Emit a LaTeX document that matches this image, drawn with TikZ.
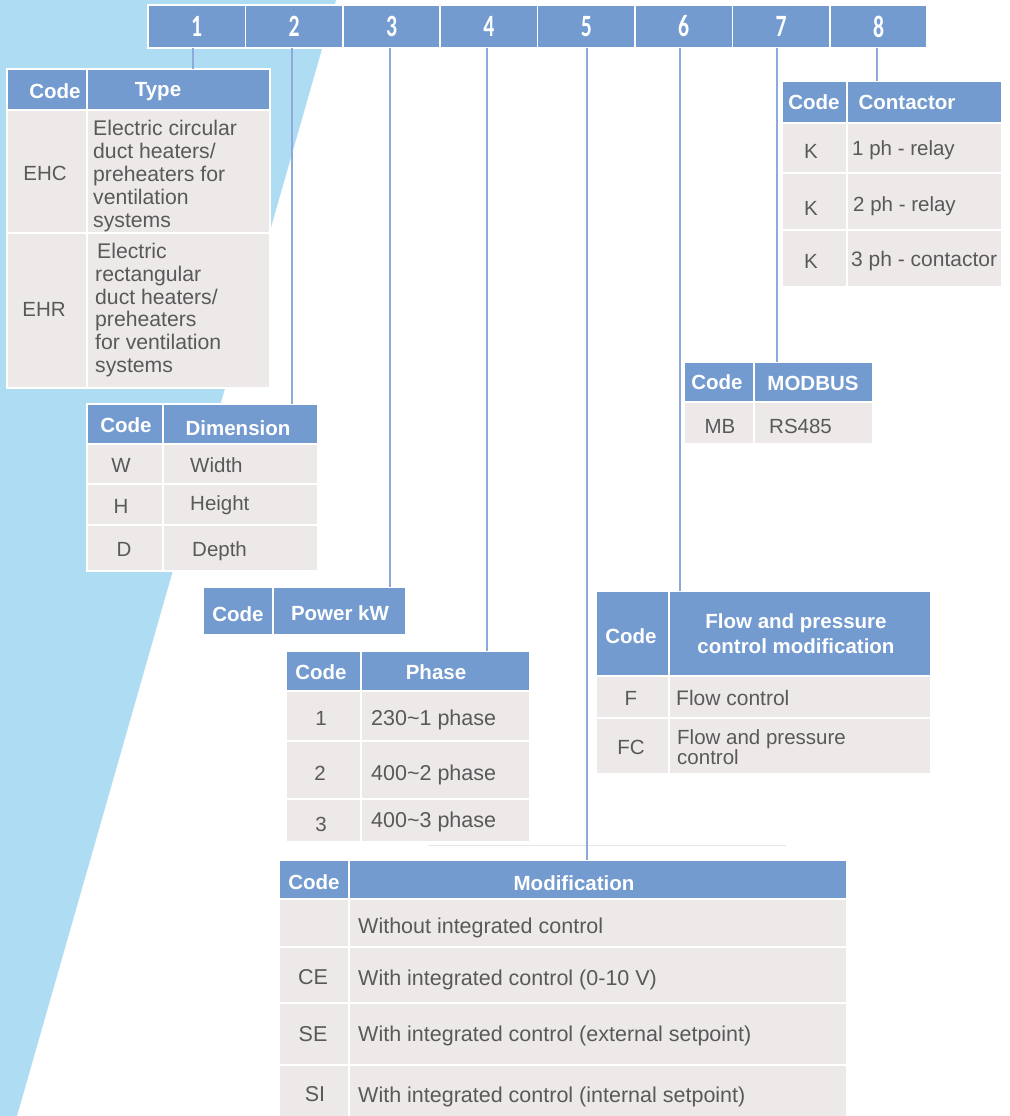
\documentclass[tikz,border=0pt]{standalone}
\usepackage{fontspec}
\setmainfont{Liberation Sans}
\newfontfamily\numfont{Carlito}
\usetikzlibrary{calc}
\definecolor{bgblue}{HTML}{AEDCF2}
\definecolor{hdr}{HTML}{739BD0}
\definecolor{rowc}{HTML}{EDE9E8}
\definecolor{txt}{HTML}{595959}
\definecolor{conn}{HTML}{8EAADB}
\definecolor{faint}{HTML}{E6E6E6}
\tikzset{
  cellbox/.style={draw=white, line width=1.5pt, inner sep=0pt, outer sep=0pt, anchor=north west},
  hcell/.style={cellbox, fill=hdr},
  rcell/.style={cellbox, fill=rowc},
  htext/.style={text=white, font=\fontsize{20.5}{25}\selectfont\bfseries, inner sep=0pt},
  btext/.style={text=txt, font=\fontsize{20.5}{23}\selectfont, inner sep=0pt},
  ltext/.style={btext, anchor=mid west, yshift=-4.5pt},
  mtext/.style={text=txt, font=\fontsize{21.5}{24}\selectfont, inner sep=0pt},
  numtext/.style={text=white, font=\numfont\fontsize{31}{31}\selectfont\bfseries, inner sep=0pt},
  link/.style={draw=conn, line width=1.4pt},
}
\newcommand\mkcell[6]{\node[#6, minimum width={(#4)-(#2)}, minimum height={(#5)-(#3)}] (#1) at (#2,#3) {};}
\begin{document}
\begin{tikzpicture}[x=1pt,y=-1pt]
\useasboundingbox (0,0) rectangle (1009,1116);
\fill[white] (0,0) rectangle (1009,1116);
\fill[bgblue] (0,0) -- (336,0) -- (17,1116) -- (0,1116) -- cycle;

% top number boxes
\foreach \i in {1,...,8}{
  \node[hcell, minimum width=97.4, minimum height=43] (n\i) at ({148+97.4*(\i-1)},5) {};
  \node[numtext] (d\i) at (n\i) {\scalebox{0.7}[1]{\i}};
}

% ---- Type table
\mkcell{tHc}{7}{69}{87}{110}{hcell}
\mkcell{tHt}{87}{69}{270}{110}{hcell}
\mkcell{tC1}{7}{110}{87}{233}{rcell}
\mkcell{tD1}{87}{110}{270}{233}{rcell}
\mkcell{tC2}{7}{233}{87}{388}{rcell}
\mkcell{tD2}{87}{233}{270}{388}{rcell}
\node[htext] (tHcT) at (55,91) {Code};
\node[htext] (tHtT) at (158,92) {Type};
\node[btext] (tC1T) at (45,173) {EHC};
\node[btext, anchor=north west, align=left, font=\fontsize{21.2}{23}\selectfont] (tD1T) at (93,120)
  {Electric circular\\duct heaters/\\preheaters for\\ventilation\\systems};
\node[btext] (tC2T) at (44,309) {EHR};
\node[btext, anchor=north west, align=left, font=\fontsize{21.2}{22.8}\selectfont] (tD2T) at (95,243)
  {\hspace*{2pt}Electric\\rectangular\\duct heaters/\\preheaters\\for ventilation\\systems};

% ---- Contactor table
\mkcell{kHc}{782}{81}{847}{123}{hcell}
\mkcell{kHt}{847}{81}{1002}{123}{hcell}
\mkcell{kC1}{782}{123}{847}{173}{rcell}
\mkcell{kD1}{847}{123}{1002}{173}{rcell}
\mkcell{kC2}{782}{173}{847}{230}{rcell}
\mkcell{kD2}{847}{173}{1002}{230}{rcell}
\mkcell{kC3}{782}{230}{847}{287}{rcell}
\mkcell{kD3}{847}{230}{1002}{287}{rcell}
\node[htext] (kHcT) at (814,102) {Code};
\node[htext] (kHtT) at (907,102) {Contactor};
\node[btext] (kC1T) at (811,151) {K};
\node[ltext] (kD1T) at (852,148) {1 ph - relay};
\node[btext] (kC2T) at (811,208) {K};
\node[ltext] (kD2T) at (853,204) {2 ph - relay};
\node[btext] (kC3T) at (811,261) {K};
\node[ltext, font=\fontsize{21}{23}\selectfont] (kD3T) at (851,259) {3 ph - contactor};

% ---- MODBUS table
\mkcell{mbHc}{684}{362}{754}{402}{hcell}
\mkcell{mbHt}{754}{362}{873}{402}{hcell}
\mkcell{mbC1}{684}{402}{754}{444}{rcell}
\mkcell{mbD1}{754}{402}{873}{444}{rcell}
\node[htext] (mbHcT) at (717,382) {Code};
\node[htext] (mbHtT) at (813,383) {MODBUS};
\node[btext] (mbC1T) at (720,426) {MB};
\node[ltext] (mbD1T) at (769,426) {RS485};

% ---- Dimension table
\mkcell{dHc}{87}{404}{163}{444}{hcell}
\mkcell{dHt}{163}{404}{318}{444}{hcell}
\mkcell{dC1}{87}{444}{163}{484}{rcell}
\mkcell{dD1}{163}{444}{318}{484}{rcell}
\mkcell{dC2}{87}{484}{163}{525}{rcell}
\mkcell{dD2}{163}{484}{318}{525}{rcell}
\mkcell{dC3}{87}{525}{163}{571}{rcell}
\mkcell{dD3}{163}{525}{318}{571}{rcell}
\node[htext] (dHcT) at (126,425) {Code};
\node[htext] (dHtT) at (238,428) {Dimension};
\node[btext] (dC1T) at (121,465) {W};
\node[ltext] (dD1T) at (190,465) {Width};
\node[btext] (dC2T) at (121,506) {H};
\node[ltext] (dD2T) at (190,503) {Height};
\node[btext] (dC3T) at (124,549) {D};
\node[ltext] (dD3T) at (192,549) {Depth};

% ---- Power table
\mkcell{pHc}{203}{587}{273}{635}{hcell}
\mkcell{pHt}{273}{587}{406}{635}{hcell}
\node[htext] (pHcT) at (238,614) {Code};
\node[htext] (pHtT) at (340,613) {Power kW};

% ---- Phase table
\mkcell{phHc}{286}{651}{361}{691}{hcell}
\mkcell{phHt}{361}{651}{530}{691}{hcell}
\mkcell{phC1}{286}{691}{361}{741}{rcell}
\mkcell{phD1}{361}{691}{530}{741}{rcell}
\mkcell{phC2}{286}{741}{361}{799}{rcell}
\mkcell{phD2}{361}{741}{530}{799}{rcell}
\mkcell{phC3}{286}{799}{361}{842}{rcell}
\mkcell{phD3}{361}{799}{530}{842}{rcell}
\node[htext] (phHcT) at (321,672) {Code};
\node[htext] (phHtT) at (436,672) {Phase};
\node[btext] (phC1T) at (321,718) {1};
\node[ltext, font=\fontsize{21.5}{24}\selectfont] (phD1T) at (371,718) {230\textasciitilde1 phase};
\node[btext] (phC2T) at (320,773) {2};
\node[ltext, font=\fontsize{21.5}{24}\selectfont] (phD2T) at (371,773) {400\textasciitilde2 phase};
\node[btext] (phC3T) at (321,824) {3};
\node[ltext, font=\fontsize{21.5}{24}\selectfont] (phD3T) at (371,820) {400\textasciitilde3 phase};
\draw[faint, line width=0.8pt] (428,845) -- (786,845);

% ---- Flow table
\mkcell{fHc}{596}{591}{669}{676}{hcell}
\mkcell{fHt}{669}{591}{931}{676}{hcell}
\mkcell{fC1}{596}{676}{669}{718}{rcell}
\mkcell{fD1}{669}{676}{931}{718}{rcell}
\mkcell{fC2}{596}{718}{669}{774}{rcell}
\mkcell{fD2}{669}{718}{931}{774}{rcell}
\node[htext] (fHcT) at (631,636) {Code};
\node[htext, align=center] (fHtT) at (796,634) {Flow and pressure\\control modification};
\node[btext] (fC1T) at (631,698) {F};
\node[ltext, font=\fontsize{21}{23}\selectfont] (fD1T) at (676,698) {Flow control};
\node[btext] (fC2T) at (631,747) {FC};
\node[btext, anchor=west, align=left, font=\fontsize{20.5}{20}\selectfont] (fD2T) at (677,747) {Flow and pressure\\control};

% ---- Modification table
\mkcell{moHc}{279}{860}{349}{899}{hcell}
\mkcell{moHt}{349}{860}{847}{899}{hcell}
\mkcell{moC1}{279}{899}{349}{947}{rcell}
\mkcell{moD1}{349}{899}{847}{947}{rcell}
\mkcell{moC2}{279}{947}{349}{1003}{rcell}
\mkcell{moD2}{349}{947}{847}{1003}{rcell}
\mkcell{moC3}{279}{1003}{349}{1065}{rcell}
\mkcell{moD3}{349}{1003}{847}{1065}{rcell}
\mkcell{moC4}{279}{1065}{349}{1120}{rcell}
\mkcell{moD4}{349}{1065}{847}{1120}{rcell}
\node[htext] (moHcT) at (314,882) {Code};
\node[htext] (moHtT) at (574,883) {Modification};
\node[mtext, anchor=mid west, yshift=-5pt] (moD1T) at (358,926) {Without integrated control};
\node[mtext] (moC2T) at (313,977) {CE};
\node[mtext, anchor=mid west, yshift=-5pt] (moD2T) at (358,978) {With integrated control (0-10 V)};
\node[mtext] (moC3T) at (313,1034) {SE};
\node[mtext, anchor=mid west, yshift=-5pt] (moD3T) at (358,1034) {With integrated control (external setpoint)};
\node[mtext] (moC4T) at (315,1094) {SI};
\node[mtext, anchor=mid west, yshift=-5pt] (moD4T) at (358,1095) {With integrated control (internal setpoint)};

% ---- connectors
\draw[link] ([xshift=-3.7pt]n1.south) -- ([xshift=-3.7pt]n1.south |- tHt.north);
\draw[link] ([xshift=-2pt]n2.south) -- ([xshift=-2pt]n2.south |- dHt.north);
\draw[link] ([xshift=-1.5pt]n3.south) -- ([xshift=-1.5pt]n3.south |- pHt.north);
\draw[link] ([xshift=-1.9pt]n4.south) -- ([xshift=-1.9pt]n4.south |- phHt.north);
\draw[link] ([xshift=0.7pt]n5.south) -- ([xshift=0.7pt]n5.south |- moHt.north);
\draw[link] ([xshift=-3.7pt]n6.south) -- ([xshift=-3.7pt]n6.south |- fHt.north);
\draw[link] ([xshift=-4pt]n7.south) -- ([xshift=-4pt]n7.south |- mbHt.north);
\draw[link] ([xshift=-1.5pt]n8.south) -- ([xshift=-1.5pt]n8.south |- kHt.north);
\end{tikzpicture}
\end{document}
